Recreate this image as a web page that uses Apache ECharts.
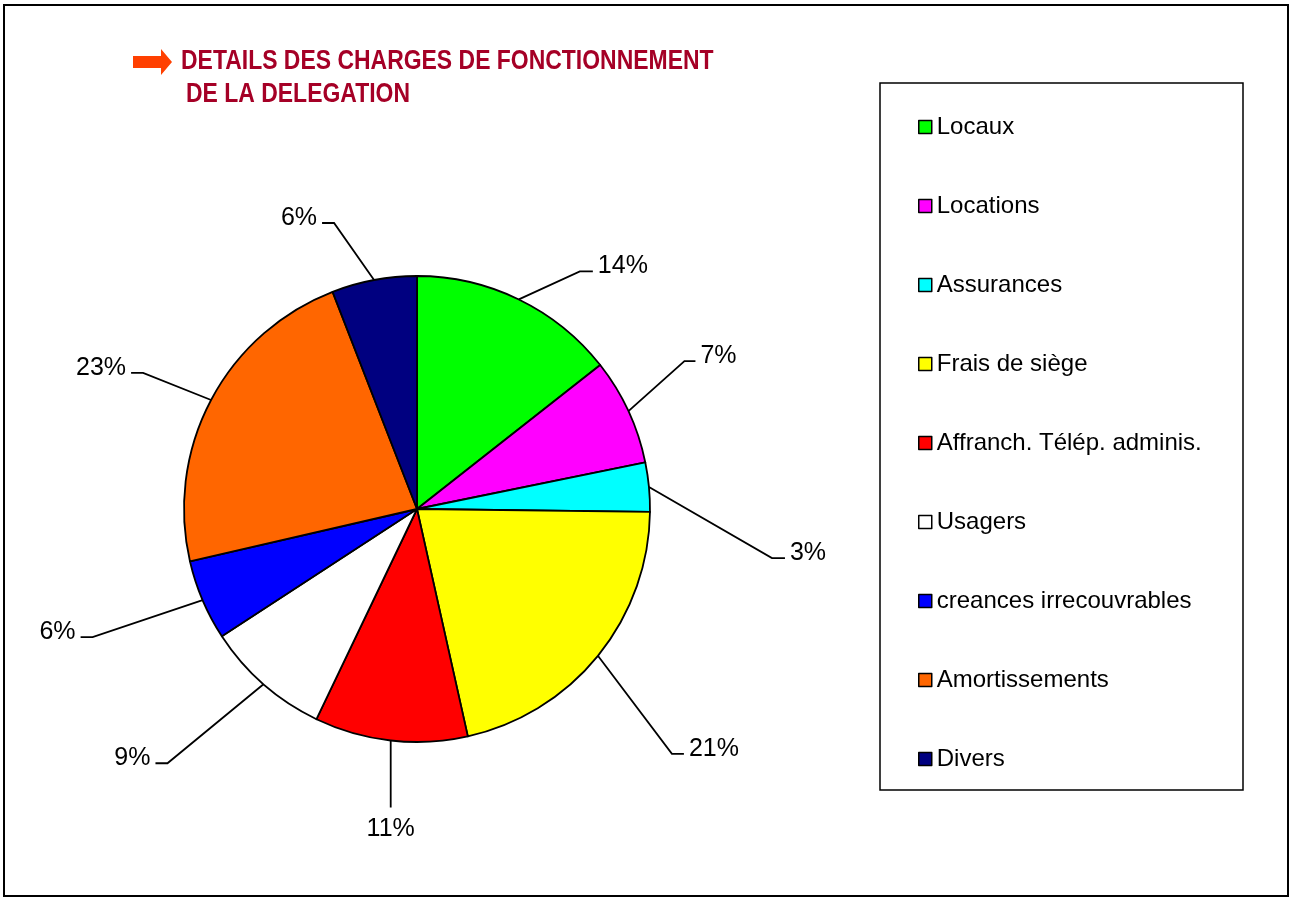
<!DOCTYPE html>
<html>
<head>
<meta charset="utf-8">
<script src="https://cdn.jsdelivr.net/npm/echarts@6/dist/echarts.min.js"></script>
<style>
html,body{margin:0;padding:0;background:#fff;}
#chart{width:1293px;height:897px;}
</style>
</head>
<body>
<div id="chart"></div>
<script>
const categories = ['Locaux','Locations','Assurances','Frais de siège','Affranch. Télép. adminis.','Usagers','creances irrecouvrables','Amortissements','Divers'];
const shares = [14.4, 7.4, 3.4, 21.3, 10.6, 8.7, 5.6, 22.7, 5.9];
const colors = ['#00FF00','#FF00FF','#00FFFF','#FFFF00','#FF0000','#FFFFFF','#0000FF','#FF6600','#000080'];
const titleLines = ['DETAILS DES CHARGES DE FONCTIONNEMENT', 'DE LA DELEGATION'];
// leader line style per slice: [dx, dy, horizontal tail]
const leaders = [[61,-28,13],[56,-50,11],[123,71,13],[74,98,12],[0,67,0],[-96,79,-12],[-110,37,-12],[-68,-27,-12],[-40,-57,-12]];

const chart = echarts.init(document.getElementById('chart'), null, {renderer:'canvas'});
const FONT = '"Liberation Sans", Arial, sans-serif';

const option = {
  backgroundColor: '#ffffff',
  animation: false,
  color: colors,
  legend: {
    orient: 'vertical',
    left: 918,
    top: 115,
    padding: 0,
    itemWidth: 13,
    itemHeight: 13,
    itemGap: 55,
    icon: 'rect',
    selectedMode: false,
    itemStyle: { borderColor: '#000', borderWidth: 1.5 },
    textStyle: { fontSize: 24, lineHeight: 24, color: '#000', fontFamily: FONT },
    data: categories
  },
  graphic: [
    { type: 'rect', shape: { x: 4, y: 5, width: 1284, height: 891 }, style: { fill: 'none', stroke: '#000', lineWidth: 2 }, silent: true, z: -1 },
    { type: 'rect', shape: { x: 880, y: 83, width: 363, height: 707 }, style: { fill: 'none', stroke: '#000', lineWidth: 1.5 }, silent: true },
    { type: 'polygon', shape: { points: [[133,56],[161,56],[161,49],[172,62],[161,75],[161,68],[133,68]] }, style: { fill: '#FF4000' }, silent: true },
    { type: 'text', x: 181, y: 62, scaleX: 0.85, style: { text: titleLines[0], fill: '#A50026', font: 'bold 27px ' + FONT, verticalAlign: 'middle' }, silent: true },
    { type: 'text', x: 186, y: 95, scaleX: 0.85, style: { text: titleLines[1], fill: '#A50026', font: 'bold 27px ' + FONT, verticalAlign: 'middle' }, silent: true }
  ],
  series: [{
    type: 'pie',
    center: [417, 509],
    radius: 233,
    startAngle: 90,
    clockwise: true,
    avoidLabelOverlap: false,
    percentPrecision: 0,
    emphasis: { disabled: true },
    itemStyle: { borderColor: '#000', borderWidth: 1.8 },
    label: {
      show: true,
      position: 'outside',
      formatter: '{d}%',
      fontSize: 25,
      color: '#000',
      fontFamily: FONT
    },
    labelLine: { show: true, length: 20, length2: 10, lineStyle: { color: '#000', width: 1.8 } },
    labelLayout: function (p) {
      const L = leaders[p.dataIndex];
      const s = p.labelLinePoints[0];
      const b = [s[0] + L[0], s[1] + L[1]];
      const e = [b[0] + L[2], b[1]];
      if (L[2] === 0) {
        return { x: e[0], y: e[1] + 9, align: 'center', verticalAlign: 'top', labelLinePoints: [s, b, e] };
      }
      const right = L[2] > 0;
      return { x: e[0] + (right ? 5 : -5), y: e[1] - 5, align: right ? 'left' : 'right', verticalAlign: 'middle', labelLinePoints: [s, b, e] };
    },
    data: categories.map((n, i) => ({ name: n, value: shares[i] }))
  }]
};
chart.setOption(option);
</script>
</body>
</html>
